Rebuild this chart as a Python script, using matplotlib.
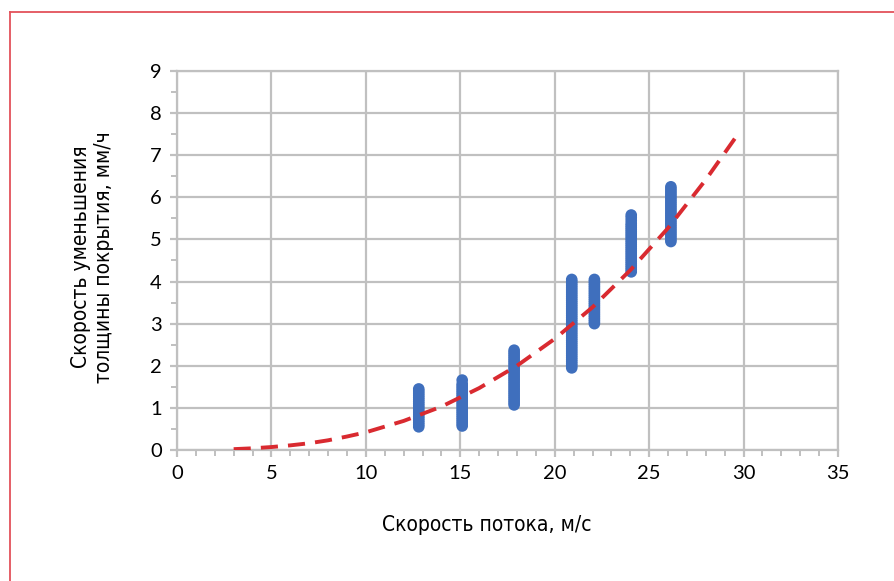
import matplotlib.pyplot as plt
from matplotlib.lines import Line2D
from matplotlib.ticker import MultipleLocator

# measured points: flow speed (m/s) and coating thinning rate (mm/h)
speed_12 = [12.8] * 19
rate_12 = [0.55, 0.6, 0.65, 0.7, 0.75, 0.8, 0.85, 0.9, 0.95, 1.0, 1.05, 1.1,
           1.15, 1.2, 1.25, 1.3, 1.35, 1.4, 1.45]
speed_15 = [15.1] * 22
rate_15 = [0.57, 0.62, 0.67, 0.72, 0.77, 0.82, 0.87, 0.92, 0.97, 1.02, 1.07,
           1.12, 1.17, 1.22, 1.27, 1.32, 1.37, 1.42, 1.47, 1.52, 1.57, 1.66]
speed_18 = [17.85] * 27
rate_18 = [1.07, 1.12, 1.17, 1.22, 1.27, 1.32, 1.37, 1.42, 1.47, 1.52, 1.57,
           1.62, 1.67, 1.72, 1.77, 1.82, 1.87, 1.92, 1.97, 2.02, 2.07, 2.12,
           2.17, 2.22, 2.27, 2.32, 2.37]
speed_21 = [20.9] * 22
rate_21 = [1.95, 2.05, 2.15, 2.25, 2.35, 2.45, 2.55, 2.65, 2.75, 2.85, 2.95,
           3.05, 3.15, 3.25, 3.35, 3.45, 3.55, 3.65, 3.75, 3.85, 3.95, 4.05]
speed_21b = [20.9] * 21
rate_21b = [2.0, 2.1, 2.2, 2.3, 2.4, 2.5, 2.6, 2.7, 2.8, 2.9, 3.0, 3.1, 3.2,
            3.3, 3.4, 3.5, 3.6, 3.7, 3.8, 3.9, 4.0]
speed_22 = [22.1] * 22
rate_22 = [3.0, 3.05, 3.1, 3.15, 3.2, 3.25, 3.3, 3.35, 3.4, 3.45, 3.5, 3.55,
           3.6, 3.65, 3.7, 3.75, 3.8, 3.85, 3.9, 3.95, 4.0, 4.05]
speed_24 = [24.05] * 27
rate_24 = [4.23, 4.28, 4.33, 4.38, 4.43, 4.48, 4.53, 4.58, 4.63, 4.68, 4.73,
           4.78, 4.83, 4.88, 4.93, 4.98, 5.03, 5.08, 5.13, 5.18, 5.23, 5.28,
           5.33, 5.38, 5.45, 5.52, 5.58]
speed_26 = [26.15] * 27
rate_26 = [4.95, 5.0, 5.05, 5.1, 5.15, 5.2, 5.25, 5.3, 5.35, 5.4, 5.45, 5.5,
           5.55, 5.6, 5.65, 5.7, 5.75, 5.8, 5.85, 5.9, 5.95, 6.0, 6.05, 6.1,
           6.15, 6.2, 6.25]

# trend line
trend_x = [3, 4, 5, 6, 7, 8, 9, 10, 12, 14, 16, 18, 20, 22, 24, 26, 28, 29.7]
trend_y = [0.02, 0.04, 0.07, 0.11, 0.16, 0.23, 0.32, 0.42, 0.69, 1.03, 1.47,
           2.0, 2.64, 3.39, 4.27, 5.27, 6.42, 7.5]

x_ticks = [0, 5, 10, 15, 20, 25, 30, 35]
y_ticks = [0, 1, 2, 3, 4, 5, 6, 7, 8, 9]

grid_col = '#c0c0c0'
blue = '#3f6fbd'
red = '#d92a30'

fig = plt.figure(figsize=(8.94, 5.81), dpi=100)
ax = fig.add_axes([0.198, 0.2255, 0.7394, 0.6523])

for xs, ys in [(speed_12, rate_12), (speed_15, rate_15), (speed_18, rate_18),
               (speed_21, rate_21), (speed_21b, rate_21b), (speed_22, rate_22),
               (speed_24, rate_24), (speed_26, rate_26)]:
    ax.scatter(xs, ys, s=70, color=blue, edgecolors='none', zorder=3)

ax.plot(trend_x, trend_y, color=red, lw=2.8, dashes=(4.4, 2.6), zorder=4)

ax.set_xlim(0, 35)
ax.set_ylim(0, 9)
ax.set_xticks(x_ticks)
ax.set_yticks(y_ticks)
ax.xaxis.set_minor_locator(MultipleLocator(1))
ax.yaxis.set_minor_locator(MultipleLocator(0.5))
ax.grid(True, which='major', color=grid_col, lw=1.6, zorder=0)
ax.set_axisbelow(True)
for sp in ax.spines.values():
    sp.set_color(grid_col)
    sp.set_linewidth(1.6)

ax.tick_params(which='major', length=5, width=1.6, color=grid_col,
               labelsize=14.5, pad=6)
ax.tick_params(which='minor', length=4, width=1.4, color=grid_col)
for lab in ax.get_xticklabels() + ax.get_yticklabels():
    lab.set_fontfamily('Lato')

label_font = dict(fontsize=15, family='DejaVu Sans', fontstretch='condensed')
ax.set_xlabel('Скорость потока, м/с', **label_font)
ax.set_ylabel('Скорость уменьшения\nтолщины покрытия, мм/ч',
              linespacing=1.2, **label_font)
ax.xaxis.set_label_coords(0.468, -0.172)
ax.yaxis.set_label_coords(-0.095, 0.51)

# red frame around the figure (clipped on the right and bottom)
fig.add_artist(Line2D([10 / 894, 10 / 894], [0, 1 - 12 / 581],
                      transform=fig.transFigure, color='#e3525b', lw=1.3))
fig.add_artist(Line2D([10 / 894, 1], [1 - 12 / 581, 1 - 12 / 581],
                      transform=fig.transFigure, color='#e3525b', lw=1.3))

fig.savefig('out.png', dpi=100)
